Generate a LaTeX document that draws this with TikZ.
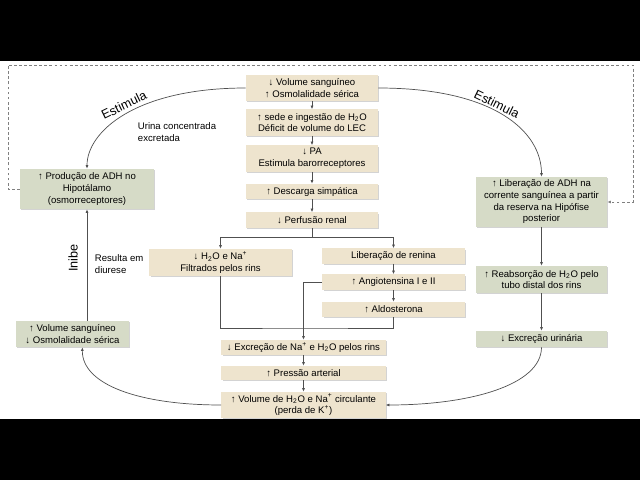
\documentclass[tikz,border=0pt]{standalone}
\usepackage{fontspec}
\setmainfont{Liberation Sans}
\usepackage{tikz}
\usetikzlibrary{positioning, arrows.meta, shadows, calc}

\definecolor{boxtan}{RGB}{238,228,206}
\definecolor{boxsage}{RGB}{214,219,199}
\definecolor{linegray}{RGB}{80,80,80}

\newcommand{\HtwoO}{H\textsubscript{2}O}
\newcommand{\Naplus}{Na\textsuperscript{+}}

\begin{document}
\begin{tikzpicture}[
    x=0.025cm, y=-0.025cm,
    font=\fontsize{6.8}{8.3}\selectfont,
    box/.style={inner sep=0pt, align=center,
        drop shadow={shadow xshift=1pt, shadow yshift=-1pt, opacity=0.35}},
    tanbox/.style={box, fill=boxtan},
    sagebox/.style={box, fill=boxsage},
    conn/.style={draw=linegray, line width=0.5pt},
    flow/.style={conn, -{Latex[length=2.6pt, width=2.2pt]}},
    feedback/.style={draw=gray, line width=0.5pt, dash pattern=on 2pt off 1.6pt,
        -{Latex[length=2.6pt, width=2.2pt]}},
    biglabel/.style={font=\fontsize{9}{10}\selectfont, inner sep=1pt}
]

% Macros for box sizes
\def\wMain{3.3cm}   % 132 px
\def\wSide{3.55cm}  % 143 px
\def\wLow{4.1cm}    % 164 px
\def\hOne{0.375cm}
\def\hTwo{0.65cm}

\useasboundingbox (0,0) rectangle (640,480);

% ==========================================
% Coluna central
\node[tanbox, minimum width=\wMain, minimum height=\hTwo] (volA) at (312,88)
    {↓ Volume sanguíneo\\↑ Osmolalidade sérica};
\node[tanbox, minimum width=\wMain, minimum height=\hTwo] (sede) at (312,122.5)
    {↑ sede e ingestão de \HtwoO\\Déficit de volume do LEC};
\node[tanbox, minimum width=\wMain, minimum height=\hTwo] (pa) at (312,158.5)
    {↓ PA\\Estimula barorreceptores};
\node[tanbox, minimum width=\wMain, minimum height=\hOne] (desc) at (312,191.5)
    {↑ Descarga simpática};
\node[tanbox, minimum width=\wMain, minimum height=\hOne] (perf) at (312,220)
    {↓ Perfusão renal};

\node[tanbox, minimum width=\wSide, minimum height=0.675cm] (filt) at (220.5,262.5)
    {↓ \HtwoO{} e \Naplus\\Filtrados pelos rins};
\node[tanbox, minimum width=\wSide, minimum height=\hOne] (ren) at (393.5,256)
    {Liberação de renina};
\node[tanbox, minimum width=\wSide, minimum height=\hOne] (ang) at (393.5,282)
    {↑ Angiotensina I e II};
\node[tanbox, minimum width=\wSide, minimum height=\hOne] (aldo) at (393.5,309.5)
    {↑ Aldosterona};

\node[tanbox, minimum width=\wLow, minimum height=\hOne] (excr) at (303.5,347.5)
    {↓ Excreção de \Naplus{} e \HtwoO{} pelos rins};
\node[tanbox, minimum width=\wLow, minimum height=0.35cm] (press) at (303.5,373)
    {↑ Pressão arterial};
\node[tanbox, minimum width=\wLow, minimum height=\hTwo] (volH) at (303.5,405)
    {↑ Volume de \HtwoO{} e \Naplus{} circulante\\(perda de K\textsuperscript{+})};

% ==========================================
% Coluna esquerda
\node[sagebox, minimum width=3.35cm, minimum height=1cm] (prod) at (87,189)
    {↑ Produção de ADH no\\Hipotálamo\\(osmorreceptores)};
\node[sagebox, minimum width=2.825cm, minimum height=\hTwo] (volB) at (72.5,334)
    {↑ Volume sanguíneo\\↓ Osmolalidade sérica};

% ==========================================
% Coluna direita
\node[sagebox, minimum width=3.275cm, minimum height=1.25cm] (lib) at (541.5,202)
    {↑ Liberação de ADH na\\corrente sanguínea a partir\\da reserva na Hipófise\\posterior};
\node[sagebox, minimum width=3.275cm, minimum height=0.675cm] (reab) at (541.5,279.5)
    {↑ Reabsorção de \HtwoO{} pelo\\tubo distal dos rins};
\node[sagebox, minimum width=3.275cm, minimum height=0.4cm] (exu) at (541.5,339)
    {↓ Excreção urinária};

% ==========================================
% Setas da coluna central
\foreach \a/\b in {volA/sede, sede/pa, pa/desc, desc/perf, ren/ang, ang/aldo, excr/press, press/volH}
    \draw[flow] (\a.south) -- (\b.north);

\coordinate (split) at (312,237);
\coordinate (merge) at (303.5,328);
\draw[flow] (perf.south) -- (split) -| (filt.north);
\draw[flow] (split) -| (ren.north);
\draw[conn] (filt.south) |- (merge) -| (aldo.south);
\draw[flow] (ang.west) -| (excr.north);

% ==========================================
% Alças laterais
\draw[flow] (volA.west) .. controls (135,88) and (87,132) .. (prod.north);
\draw[flow] (volA.east) .. controls (495,88) and (541.5,132) .. (lib.north);
\draw[flow] (lib.south) -- (reab.north);
\draw[flow] (reab.south) -- (exu.north);
\draw[flow] (exu.south) .. controls (541.5,385) and (470,405) .. (volH.east);
\draw[flow] (volH.west) .. controls (140,405) and (82,385) .. ([xshift=7pt]volB.south);
\draw[flow] (prod.south |- volB.north) -- (prod.south);

% Retroalimentação tracejada
\coordinate (frameTL) at (8,65);
\coordinate (frameTR) at (633,65);
\draw[feedback] (prod.west) -| (frameTL) -- (frameTR) |- (lib.east);

% Rótulos
\node[biglabel, rotate=26] (estA) at (124,105) {Estimula};
\node[biglabel, rotate=-26] (estB) at (497,104) {Estimula};
\node[anchor=west, align=left] (urina) at (133,132) {Urina concentrada\\excretada};
\node[biglabel, rotate=90] (inibe) at (73,258) {Inibe};
\node[anchor=west, align=left] (diur) at (90,264) {Resulta em\\diurese};

% Faixas pretas
\fill[black] (0,0) rectangle (640,61);
\fill[black] (0,419) rectangle (640,480);

\end{tikzpicture}
\end{document}
